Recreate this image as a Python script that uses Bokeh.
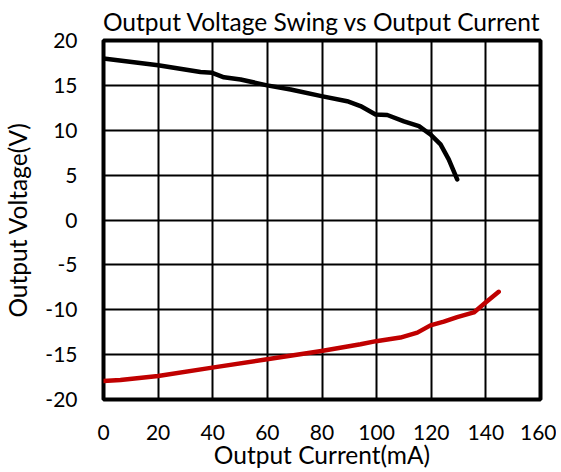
from bokeh.plotting import figure
from bokeh.embed import file_html
from bokeh.resources import INLINE
from bokeh.models import Range1d, FixedTicker

# Data
pos_current = [0, 20, 35.5, 39.8, 44.1, 50.2, 59.9, 68.5, 79.8, 89.2, 94.1, 99.6, 103.9, 110, 115.5, 119.7, 123.4, 126.4, 129.5]
pos_voltage = [18.0, 17.25, 16.5, 16.4, 15.9, 15.66, 15.0, 14.54, 13.8, 13.24, 12.7, 11.76, 11.7, 11.0, 10.46, 9.53, 8.42, 6.75, 4.52]

neg_current = [0, 6.2, 20, 39.8, 59.9, 79.8, 94.1, 99.8, 108.7, 114.9, 119.7, 124.6, 129.5, 135.6, 139.9, 144.7]
neg_voltage = [-17.94, -17.83, -17.38, -16.45, -15.52, -14.6, -13.85, -13.5, -13.1, -12.55, -11.74, -11.33, -10.83, -10.3, -9.2, -8.0]

x_ticks = [0, 20, 40, 60, 80, 100, 120, 140, 160]
y_ticks = [-20, -15, -10, -5, 0, 5, 10, 15, 20]
y_tick_labels = ["-20", "-15", "-10", "-5", "0", "5", "10", "15", "20"]

FONT = "Lato"

p = figure(output_backend="svg", toolbar_location=None,
           frame_width=437, frame_height=359,
           x_range=Range1d(0, 160), y_range=Range1d(-20, 20),
           title="Output Voltage Swing vs Output Current",
           min_border_left=10, min_border_right=16, min_border_top=0, min_border_bottom=0)

p.title.text_font = FONT
p.title.text_font_size = "24.5px"
p.title.text_font_style = "normal"
p.title.align = "center"
p.title.text_color = "black"
p.title.standoff = 9

p.outline_line_color = "black"
p.outline_line_width = 4
p.background_fill_color = "white"
p.border_fill_color = "white"

p.xaxis.ticker = FixedTicker(ticks=x_ticks)
p.yaxis.ticker = FixedTicker(ticks=y_ticks)
p.yaxis.major_label_overrides = dict(zip(y_ticks, y_tick_labels))
for ax in (p.xaxis, p.yaxis):
    ax.axis_line_color = None
    ax.major_tick_line_color = None
    ax.minor_tick_line_color = None
    ax.major_label_text_font = FONT
    ax.major_label_text_font_size = "21px"
    ax.major_label_text_color = "black"
    ax.axis_label_text_font = FONT
    ax.axis_label_text_font_size = "24.5px"
    ax.axis_label_text_font_style = "normal"
    ax.axis_label_text_color = "black"

p.xaxis.axis_label = "Output Current(mA)"
p.yaxis.axis_label = "Output Voltage(V)"
p.xaxis.major_label_standoff = 19
p.yaxis.major_label_standoff = 20
p.xaxis.axis_label_standoff = -3
p.yaxis.axis_label_standoff = 10

p.xgrid.ticker = FixedTicker(ticks=x_ticks)
p.ygrid.ticker = FixedTicker(ticks=y_ticks)
for g in (p.xgrid, p.ygrid):
    g.grid_line_color = "black"
    g.grid_line_width = 2

p.line(pos_current, pos_voltage, line_color="black", line_width=4.5, line_join="round", line_cap="round")
p.line(neg_current, neg_voltage, line_color="#C00000", line_width=4.5, line_join="round", line_cap="round")

open("out.html", "w").write(file_html(p, INLINE))
